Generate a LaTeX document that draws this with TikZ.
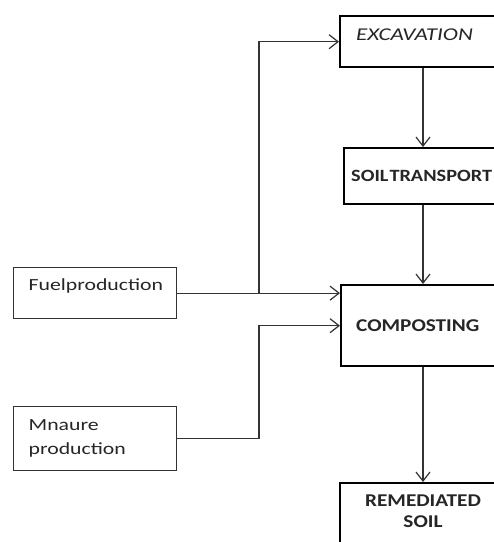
\documentclass[tikz,border=0pt]{standalone}
\usepackage{fontspec}
\setmainfont{Carlito}[FakeStretch=1.18]
\newfontfamily\widefont{Carlito}[FakeStretch=1.28]
\usetikzlibrary{arrows.meta}
\begin{document}
\begin{tikzpicture}[x=1pt,y=-1pt,
  bigbox/.style={draw=black, line width=2.4pt, rectangle, anchor=north west, align=left, inner ysep=0pt, text=black!85},
  bigfont/.style={font=\fontsize{18}{21}\selectfont\bfseries},
  smallbox/.style={draw=black!80, line width=1.3pt, rectangle, anchor=north west, align=left, inner xsep=15pt, inner ysep=0pt, text=black!85, font=\widefont\fontsize{17}{24}\selectfont},
  conn/.style={draw=black!80, line width=1.2pt},
  arr/.style={conn, -{Straight Barb[length=9pt,width=14pt,line width=1.2pt]}}]
\useasboundingbox (0,0) rectangle (494,542);
\clip (0,0) rectangle (494,542);
\fill[white] (0,0) rectangle (494,542);
\node[bigbox, font=\widefont\fontsize{18}{21}\selectfont\itshape, inner xsep=16pt, text width=200pt, minimum height=51pt, text height=12pt, text depth=15.4pt] (exc) at (339,15) {EXCAVATION};
\node[bigbox, font=\fontsize{17.2}{21}\selectfont\bfseries, inner xsep=7pt, text width=220pt, minimum height=56pt] (st) at (343,147) {SOIL\hspace{1pt}TRANSPORT};
\node[bigbox, bigfont, inner xsep=15pt, text width=200pt, minimum height=81pt] (comp) at (340,284) {COMPOSTING};
\node[bigbox, bigfont, anchor=north, align=center, text width=160pt, inner xsep=3pt, inner ysep=12pt, text depth=60pt] (rem) at (423,482) {REMEDIATED\\SOIL};
\node[smallbox, text width=133pt, minimum height=51pt, text height=12pt, text depth=17pt] (fuel) at (13,267) {Fuelproduction};
\node[smallbox, text width=133pt, minimum height=64pt] (man) at (13,406) {Mnaure\\production};
\coordinate (colx) at (423,0);
\coordinate (j) at (259,0);
\draw[arr] (exc.south -| colx) -- (st.north -| colx);
\draw[arr] (st.south -| colx) -- (comp.north -| colx);
\draw[arr] (comp.south -| colx) -- (rem.north);
\draw[arr] (fuel.east) -- (fuel.east -| comp.west);
\draw[arr] (j |- fuel.east) |- (exc.west);
\draw[arr] (man.east) -| (j |- comp.west) -- (comp.west);
\end{tikzpicture}
\end{document}
